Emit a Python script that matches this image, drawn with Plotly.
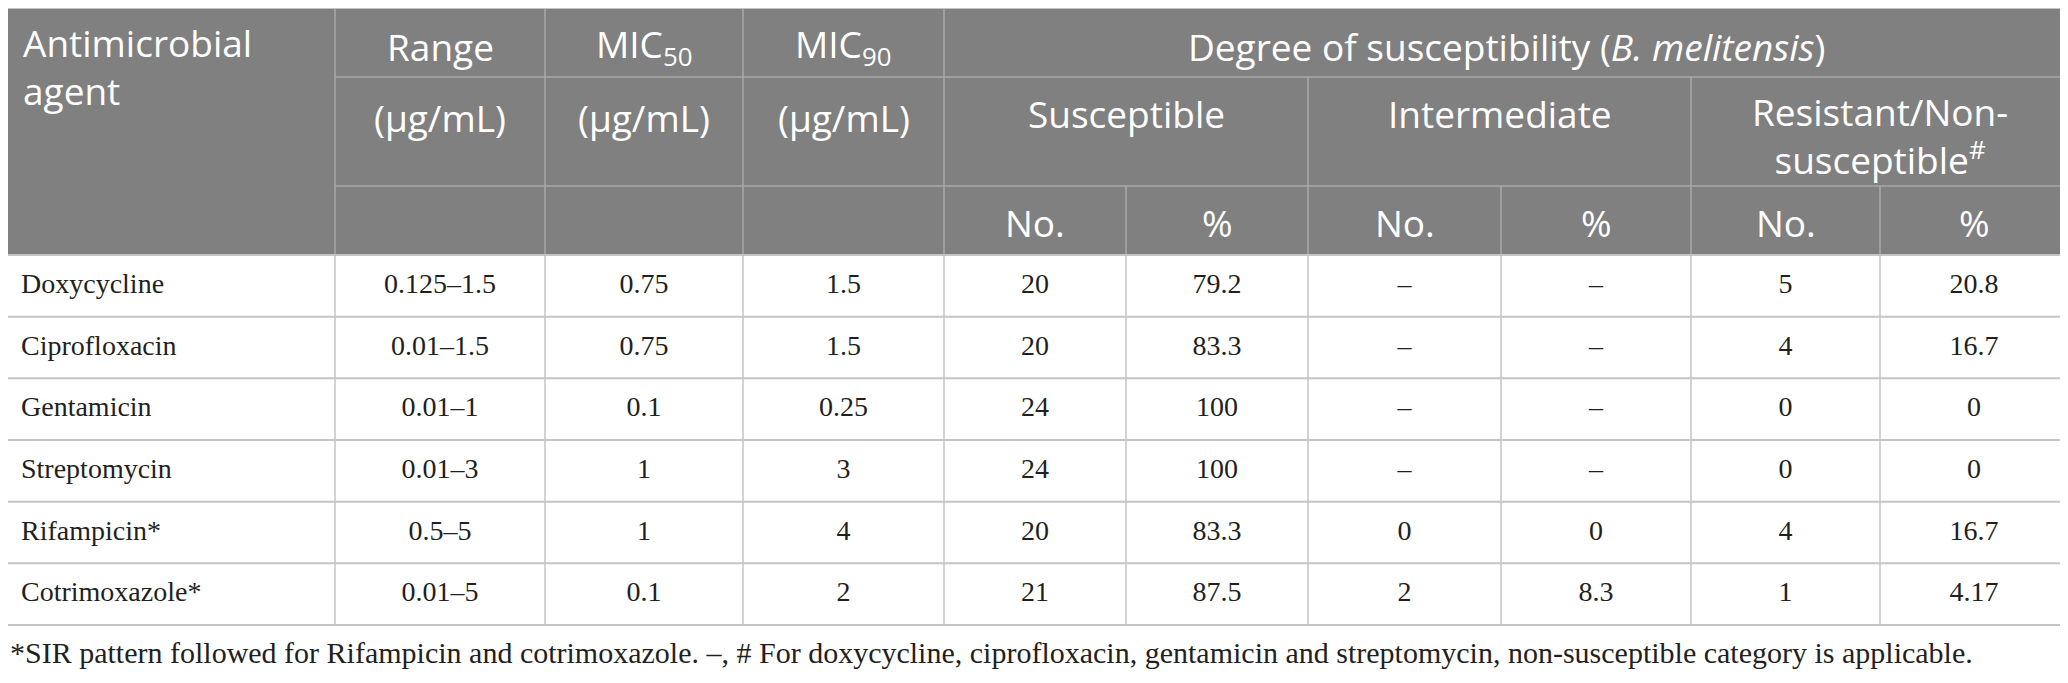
import plotly.graph_objects as go

# table content
agents = ["Doxycycline", "Ciprofloxacin", "Gentamicin", "Streptomycin", "Rifampicin*", "Cotrimoxazole*"]
mic_range = ["0.125–1.5", "0.01–1.5", "0.01–1", "0.01–3", "0.5–5", "0.01–5"]
mic50 = ["0.75", "0.75", "0.1", "1", "1", "0.1"]
mic90 = ["1.5", "1.5", "0.25", "3", "4", "2"]
sus_no = ["20", "20", "24", "24", "20", "21"]
sus_pct = ["79.2", "83.3", "100", "100", "83.3", "87.5"]
int_no = ["–", "–", "–", "–", "0", "2"]
int_pct = ["–", "–", "–", "–", "0", "8.3"]
res_no = ["5", "4", "0", "0", "4", "1"]
res_pct = ["20.8", "16.7", "0", "0", "16.7", "4.17"]

top_headers = ["Range", "MIC<sub>50</sub>", "MIC<sub>90</sub>"]
unit_label = "(µg/mL)"
group_title = "Degree of susceptibility (<i>B. melitensis</i>)"
groups = ["Susceptible", "Intermediate", "Resistant/Non-<br>susceptible<sup>#</sup>"]
sub_headers = ["No.", "%"]
footnote = ("*SIR pattern followed for Rifampicin and cotrimoxazole. –, # For doxycycline, "
            "ciprofloxacin, gentamicin and streptomycin, non-susceptible category is applicable.")

# layout in page pixels (the page body has an 8px margin, so the figure starts at 8,8)
W, H = 2068, 683
OFF = 8
edges = [0, 335, 545, 743, 944, 1126, 1308, 1501, 1691, 1880, 2068]
y_top, y_r1, y_r2, y_head = 8, 77, 186, 255
row_h = 61.67
n = len(agents)
y_rows = [y_head + k * row_h for k in range(n + 1)]
centers = [(edges[i] + edges[i + 1]) / 2 for i in range(len(edges) - 1)]
row_mid = [y_head + (k + 0.5) * row_h for k in range(n)]

HEAD_BG = "#808080"
HEAD_LINE = "#a8a8a8"
BODY_LINE = "#c4c4c4"
SANS = "Open Sans"
SERIF = "Liberation Serif"
INK = "#231f20"

fig = go.Figure()

shapes = [dict(type="rect", x0=-5, x1=W + 5, y0=y_top, y1=y_head, fillcolor=HEAD_BG, line_width=0, layer="below")]


def hline(y, x0, x1, color, w=1.5):
    shapes.append(dict(type="line", x0=x0, x1=x1, y0=y, y1=y, line=dict(color=color, width=w)))


def vline(x, y0, y1, color, w=1.5):
    shapes.append(dict(type="line", x0=x, x1=x, y0=y0, y1=y1, line=dict(color=color, width=w)))


# header grid
hline(y_r1, edges[1], W, HEAD_LINE)
hline(y_r2, edges[1], W, HEAD_LINE)
for x in edges[1:5]:
    vline(x, y_top, y_head, HEAD_LINE)
for x in (edges[6], edges[8]):
    vline(x, y_r1, y_head, HEAD_LINE)
for x in (edges[5], edges[7], edges[9]):
    vline(x, y_r2, y_head, HEAD_LINE)

# body grid
hline(y_top, 0, W, BODY_LINE, 2)
for y in y_rows:
    hline(y, 0, W, BODY_LINE, 2)
for x in edges:
    vline(x, y_head, y_rows[-1], BODY_LINE, 1.5)

# body cells
columns = [mic_range, mic50, mic90, sus_no, sus_pct, int_no, int_pct, res_no, res_pct]
fig.add_trace(go.Scatter(
    x=[21] * n, y=row_mid, text=agents, mode="text", textposition="middle right",
    textfont=dict(family=SERIF, size=28, color=INK), hoverinfo="skip"))
for cx, vals in zip(centers[1:], columns):
    fig.add_trace(go.Scatter(
        x=[cx] * n, y=row_mid, text=vals, mode="text", textposition="middle center",
        textfont=dict(family=SERIF, size=28, color=INK), hoverinfo="skip"))

# header text
head_font = dict(family=SANS, size=37, color="white")
ann = [dict(x=21, y=66, text="Antimicrobial<br>agent", xanchor="left", yanchor="middle", align="left")]
for i, t in enumerate(top_headers):
    ann.append(dict(x=centers[i + 1], y=46, text=t))
    ann.append(dict(x=centers[i + 1], y=117, text=unit_label))
ann.append(dict(x=(edges[4] + W) / 2, y=46, text=group_title))
for g, t in enumerate(groups):
    gx = (edges[4 + 2 * g] + edges[6 + 2 * g]) / 2
    ann.append(dict(x=gx, y=135 if "<br>" in t else 113, text=t))
    for s, st in enumerate(sub_headers):
        ann.append(dict(x=centers[4 + 2 * g + s], y=222, text=st))
for a in ann:
    a.setdefault("xanchor", "center")
    a.setdefault("yanchor", "middle")
    a.update(xref="x", yref="y", showarrow=False, font=head_font)

# footnote sits at the left edge of the figure
ann.append(dict(x=0, y=652, text=footnote, xref="paper", yref="y", xanchor="left", yanchor="middle",
                showarrow=False, font=dict(family=SERIF, size=30, color=INK)))

fig.update_layout(
    width=W - OFF, height=H - OFF, margin=dict(l=0, r=0, t=0, b=0),
    paper_bgcolor="white", plot_bgcolor="white", showlegend=False,
    shapes=shapes, annotations=ann,
    xaxis=dict(range=[OFF, W], visible=False, fixedrange=True),
    yaxis=dict(range=[H, OFF], visible=False, fixedrange=True),
)

fig.write_html("out.html")
